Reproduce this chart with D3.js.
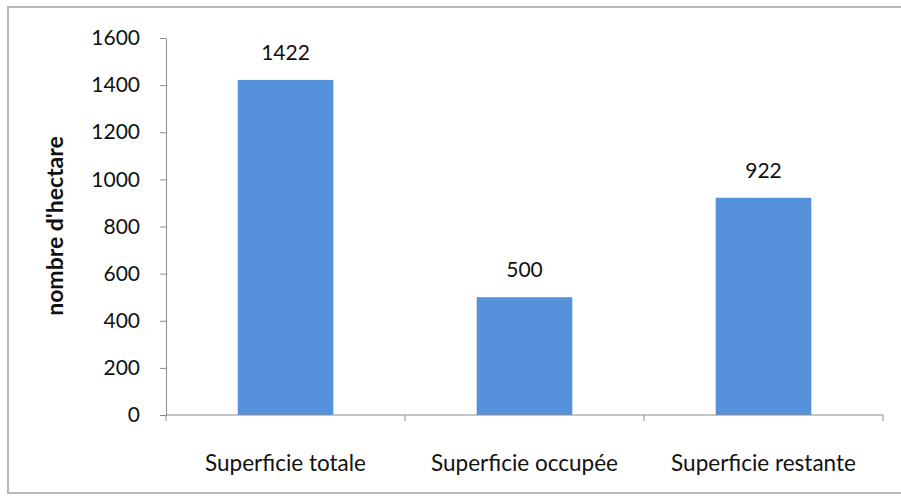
<!DOCTYPE html>
<html>
<head>
<meta charset="utf-8">
<script src="https://cdn.jsdelivr.net/npm/d3@7"></script>
<style>
  body { margin: 0; background: #fff; }
  svg { display: block; }
  text { font-family: Lato, "Open Sans", sans-serif; fill: #111; }
</style>
</head>
<body>
<svg id="chart" width="901" height="499"></svg>
<script>
const categories = ["Superficie totale", "Superficie occupée", "Superficie restante"];
const values = [1422, 500, 922];
const yTicks = [0, 200, 400, 600, 800, 1000, 1200, 1400, 1600];
const yTitle = "nombre d'hectare";

const svg = d3.select("#chart");
const W = 901, H = 499;
const m = { left: 166, right: 18, top: 38, bottom: 84 };

svg.append("rect").attr("x", 8).attr("y", 7).attr("width", W + 10).attr("height", 486)
  .attr("fill", "#fff").attr("stroke", "#b8b8b8").attr("stroke-width", 2);

const x = d3.scaleBand().domain(categories).range([m.left, W - m.right]).paddingInner(0.6).paddingOuter(0.3);
const y = d3.scaleLinear().domain([0, 1600]).range([H - m.bottom, m.top]);

// bars
svg.selectAll("rect.bar").data(values).join("rect").attr("class", "bar")
  .attr("x", (d, i) => x(categories[i]))
  .attr("width", x.bandwidth())
  .attr("y", d => y(d))
  .attr("height", d => y(0) - y(d))
  .attr("fill", "#5592db");

// y axis
const yAxis = svg.append("g").attr("transform", `translate(${m.left},0)`)
  .call(d3.axisLeft(y).tickValues(yTicks).tickFormat(d3.format("d")).tickSize(6).tickPadding(20).tickSizeOuter(0));
yAxis.select(".domain").attr("stroke", "#8c8c8c");
yAxis.selectAll(".tick line").attr("stroke", "#8c8c8c");
yAxis.selectAll(".tick text").attr("font-size", 21).attr("font-family", "Lato, sans-serif").attr("fill", "#111");

// x axis with ticks at category boundaries
const xb = d3.scaleLinear().domain([0, categories.length]).range([m.left, W - m.right]);
const xAxisG = svg.append("g").attr("transform", `translate(0,${y(0)})`);
xAxisG.append("line").attr("x1", xb(0)).attr("x2", xb(categories.length)).attr("stroke", "#8c8c8c");
xAxisG.selectAll("line.tk").data(d3.range(categories.length + 1)).join("line").attr("class", "tk")
  .attr("x1", d => xb(d)).attr("x2", d => xb(d)).attr("y1", 0).attr("y2", 6).attr("stroke", "#8c8c8c");
xAxisG.selectAll("text").data(categories).join("text")
  .attr("x", (d, i) => (xb(i) + xb(i + 1)) / 2)
  .attr("y", 56).attr("text-anchor", "middle").attr("font-size", 22.5).text(d => d);

// value labels
svg.selectAll("text.val").data(values).join("text").attr("class", "val")
  .attr("x", (d, i) => x(categories[i]) + x.bandwidth() / 2)
  .attr("y", d => y(d) - 20)
  .attr("text-anchor", "middle").attr("font-size", 21).text(d => d);

// y title
svg.append("text").attr("transform", `translate(63,226) rotate(-90)`)
  .attr("text-anchor", "middle").attr("font-size", 23).attr("font-weight", "bold").text(yTitle);
</script>
</body>
</html>
